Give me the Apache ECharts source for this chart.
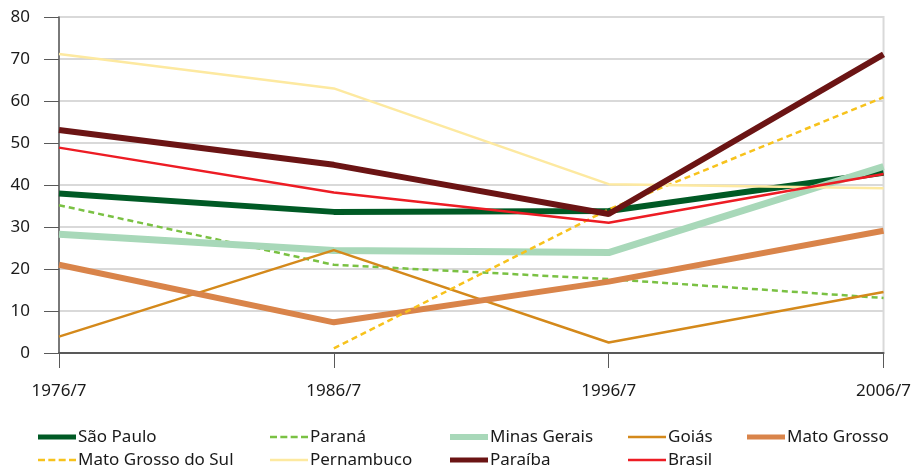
<!DOCTYPE html>
<html lang="pt">
<head>
    <meta charset="UTF-8">
    <title>Estados</title>
    <script src="https://cdn.jsdelivr.net/npm/echarts@6/dist/echarts.min.js"></script>
    <style>
        html, body { margin: 0; padding: 0; background: #fff; }
        #container { width: 914px; height: 466px; }
    </style>
</head>
<body>
    <div id="container"></div>
    <script type="text/javascript">
        var periods = ['1976/7', '1986/7', '1996/7', '2006/7'];

        var saoPaulo = [38, 33.6, 33.8, 42.9];
        var parana = [35.2, 21, 17.6, 13.1];
        var minasGerais = [28.3, 24.4, 23.9, 44.4];
        var goias = [3.9, 24.5, 2.5, 14.5];
        var matoGrosso = [21, 7.3, 17, 29.1];
        var matoGrossoSul = ['-', 1.1, 34.2, 60.9];
        var pernambuco = [71.2, 63, 40.2, 39.2];
        var paraiba = [53.1, 44.8, 33.1, 71.1];
        var brasil = [48.9, 38.2, 31, 42.6];

        var yTicks = [0, 10, 20, 30, 40, 50, 60, 70, 80];

        var font = "'Noto Sans', sans-serif";

        function line(name, data, color, width, dashed) {
            return {
                name: name,
                type: 'line',
                data: data,
                symbol: 'none',
                lineStyle: { color: color, width: width, type: dashed ? [6, 4] : 'solid', cap: 'butt' },
                itemStyle: { color: color }
            };
        }

        // legend swatch as a path, same aspect as the item box so it is not shrunk
        function swatch(h, dashed) {
            if (!dashed) return 'path://M0,0H38V' + h + 'H0Z';
            var p = 'path://';
            [0, 10.33, 20.67, 31].forEach(function (x) {
                p += 'M' + x + ',0H' + (x + 7) + 'V' + h + 'H' + x + 'Z ';
            });
            return p;
        }

        // one legend per entry so the two rows line up in columns
        function legendItem(left, top, name, thick, dashed) {
            return {
                left: left,
                top: top,
                padding: 0,
                itemWidth: 38,
                itemHeight: thick,
                itemGap: 0,
                icon: swatch(thick, dashed),
                data: [name],
                textStyle: { fontFamily: font, fontSize: 17, lineHeight: 20, color: '#1a1a1a', padding: [0, 0, 0, -3] }
            };
        }

        var myChart = echarts.init(document.getElementById('container'), null, { renderer: 'canvas' });

        var option = {
            animation: false,
            grid: {
                left: 59,
                right: 23,
                top: 17,
                bottom: 113,
                show: true,
                borderColor: '#d9d9d9',
                borderWidth: 2
            },
            legend: [
                legendItem(38, 427, 'São Paulo', 5),
                legendItem(270, 427, 'Paraná', 2.5, true),
                legendItem(450, 427, 'Minas Gerais', 6),
                legendItem(628, 427, 'Goiás', 2.5),
                legendItem(747, 427, 'Mato Grosso', 5),
                legendItem(38, 450, 'Mato Grosso do Sul', 2.5, true),
                legendItem(270, 450, 'Pernambuco', 2.5),
                legendItem(450, 450, 'Paraíba', 5),
                legendItem(628, 450, 'Brasil', 2.5)
            ],
            xAxis: {
                type: 'category',
                boundaryGap: false,
                data: periods,
                axisLine: { lineStyle: { color: '#595959', width: 2 } },
                axisTick: { length: 15, lineStyle: { color: '#595959', width: 1 } },
                axisLabel: { fontFamily: font, fontSize: 17, color: '#1a1a1a', margin: 30 }
            },
            yAxis: {
                type: 'value',
                min: yTicks[0],
                max: yTicks[yTicks.length - 1],
                interval: 10,
                axisLine: { show: true, lineStyle: { color: '#595959', width: 1.5 } },
                axisTick: { show: true, length: 15, lineStyle: { color: '#595959' } },
                axisLabel: { fontFamily: font, fontSize: 17, color: '#1a1a1a', margin: 29 },
                splitLine: { lineStyle: { color: '#d9d9d9', width: 2 } }
            },
            series: [
                line('São Paulo', saoPaulo, '#005a25', 6),
                line('Paraná', parana, '#7ac143', 2.5, true),
                line('Minas Gerais', minasGerais, '#a8d8b9', 7),
                line('Goiás', goias, '#d4891b', 2.5),
                line('Mato Grosso', matoGrosso, '#d9844a', 6),
                line('Mato Grosso do Sul', matoGrossoSul, '#f7c21c', 2.5, true),
                line('Pernambuco', pernambuco, '#fde9a0', 2.5),
                line('Paraíba', paraiba, '#6b1414', 6),
                line('Brasil', brasil, '#ed1c24', 2.5)
            ]
        };

        myChart.setOption(option);
        window.addEventListener('resize', myChart.resize);
    </script>
</body>
</html>
